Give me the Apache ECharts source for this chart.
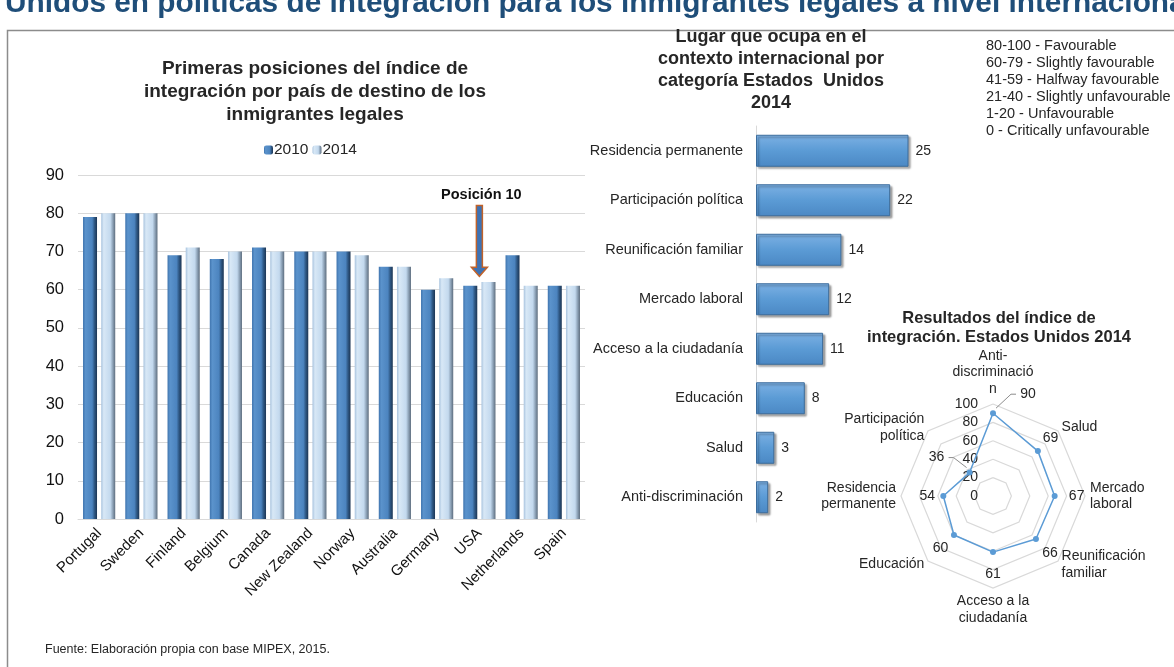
<!DOCTYPE html>
<html><head><meta charset="utf-8">
<script src="https://cdn.jsdelivr.net/npm/echarts@6/dist/echarts.min.js"></script>
<style>html,body{margin:0;padding:0;background:#fff}#c{width:1174px;height:667px}</style>
</head><body><div id="c"></div>
<script>
// ---------- data ----------
const countries = ['Portugal','Sweden','Finland','Belgium','Canada','New Zealand','Norway','Australia','Germany','USA','Netherlands','Spain'];
const values2010 = [79,80,69,68,71,70,70,66,60,61,69,61];
const values2014 = [80,80,71,70,70,70,69,66,63,62,61,61];
const yTicks = [0,10,20,30,40,50,60,70,80,90];

const rankCategories = ['Residencia permanente','Participación política','Reunificación familiar','Mercado laboral','Acceso a la ciudadanía','Educación','Salud','Anti-discriminación'];
const rankValues = [25,22,14,12,11,8,3,2];

// clockwise from the top, as in the reference
const radarNames = ['Anti-\ndiscriminació\nn','Salud','Mercado\nlaboral','Reunificación\nfamiliar','Acceso a la\nciudadanía','Educación','Residencia\npermanente','Participación\npolítica'];
const radarValues = [90,69,67,66,61,60,54,36];
const radarTicks = [0,20,40,60,80,100];

const scaleLegend = ['80-100 - Favourable','60-79 - Slightly favourable','41-59 - Halfway favourable','21-40 - Slightly unfavourable','1-20 - Unfavourable','0 - Critically unfavourable'];

// ---------- styling ----------
const FONT = '"Liberation Sans", Arial, sans-serif';
const TXT = '#262626';
const GRID = '#d9d9d9';
const c2010 = new echarts.graphic.LinearGradient(0,0,1,0,[
  {offset:0,color:'#3f74ae'},{offset:0.18,color:'#5b93cc'},{offset:0.65,color:'#4c84bf'},{offset:0.82,color:'#2e5783'},{offset:1,color:'#1c3553'}]);
const c2014 = new echarts.graphic.LinearGradient(0,0,1,0,[
  {offset:0,color:'#a8c3de'},{offset:0.18,color:'#d8e8f6'},{offset:0.65,color:'#c3d9ee'},{offset:0.82,color:'#8fa4b9'},{offset:1,color:'#5d6d7e'}]);
const cRank = new echarts.graphic.LinearGradient(0,0,0,1,[
  {offset:0,color:'#7db1e4'},{offset:0.5,color:'#5b9bd5'},{offset:1,color:'#4b88c4'}]);

// radar: ECharts lays indicators counter-clockwise, so reorder
const ccwOrder = [0,7,6,5,4,3,2,1];
const radarIndicators = ccwOrder.map((k,i) => {
  const o = {name: radarNames[k], max: radarTicks[radarTicks.length-1], min: radarTicks[0]};
  if (i === 0) o.axisLabel = {show: true};
  return o;
});
const radarData = ccwOrder.map(k => radarValues[k]);

const chart = echarts.init(document.getElementById('c'), null, {renderer:'canvas'});

chart.setOption({
  animation: false,
  textStyle: {fontFamily: FONT},
  title: [
    {text: 'Primeras posiciones del índice de\nintegración por país de destino de los\ninmigrantes legales',
     left: 310, top: 52, textAlign: 'center',
     textStyle: {fontSize: 19, fontWeight: 'bold', color: TXT, lineHeight: 23, fontFamily: FONT}},
    {text: 'Lugar que ocupa en el\ncontexto internacional por\ncategoría Estados  Unidos\n2014',
     left: 766, top: 21, textAlign: 'center',
     textStyle: {fontSize: 18, fontWeight: 'bold', color: TXT, lineHeight: 22, fontFamily: FONT}},
    {text: 'Resultados del índice de\nintegración. Estados Unidos 2014',
     left: 994, top: 304, textAlign: 'center',
     textStyle: {fontSize: 16.5, fontWeight: 'bold', color: TXT, lineHeight: 19, fontFamily: FONT}}
  ],
  legend: {
    data: ['2010','2014'], left: 259, top: 137,
    itemWidth: 9, itemHeight: 9, itemGap: 4,
    textStyle: {fontSize: 15.5, color: TXT, fontFamily: FONT, padding: [0,0,0,-4]}
  },
  grid: [
    {left: 78, right: 589, top: 175, bottom: 148},
    {left: 756, top: 126, width: 183, height: 396}
  ],
  xAxis: [
    {type: 'category', gridIndex: 0, data: countries,
     axisLine: {lineStyle: {color: GRID}}, axisTick: {show: false},
     axisLabel: {rotate: 45, interval: 0, fontSize: 15, color: '#111', margin: 12, fontFamily: FONT}},
    {type: 'value', gridIndex: 1, min: 0, max: 30, show: false}
  ],
  yAxis: [
    {type: 'value', gridIndex: 0, min: yTicks[0], max: yTicks[yTicks.length-1], interval: 10,
     axisLine: {show: false}, axisTick: {show: false},
     splitLine: {lineStyle: {color: GRID}},
     axisLabel: {fontSize: 16.5, color: '#111', margin: 14, fontFamily: FONT}},
    {type: 'category', gridIndex: 1, data: rankCategories, inverse: true,
     axisLine: {lineStyle: {color: GRID}}, axisTick: {show: false},
     axisLabel: {fontSize: 14.5, color: TXT, margin: 13, fontFamily: FONT}}
  ],
  radar: {
    center: [993, 496], radius: 92, startAngle: 90, shape: 'polygon', splitNumber: 5,
    indicator: radarIndicators,
    nameGap: 5,
    axisName: {color: TXT, fontSize: 14, lineHeight: 16.5, fontFamily: FONT},
    axisLine: {show: false},
    axisTick: {show: false},
    splitLine: {lineStyle: {color: GRID, width: 1.2}},
    splitArea: {show: false},
    axisLabel: {show: false, color: TXT, fontSize: 14, margin: 15, fontFamily: FONT}
  },
  series: [
    {name: '2010', type: 'bar', xAxisIndex: 0, yAxisIndex: 0, data: values2010,
     barWidth: 14, barGap: '30%', itemStyle: {color: c2010}},
    {name: '2014', type: 'bar', xAxisIndex: 0, yAxisIndex: 0, data: values2014,
     barWidth: 14, itemStyle: {color: c2014}},
    {name: 'rank', type: 'bar', xAxisIndex: 1, yAxisIndex: 1, data: rankValues,
     barWidth: 32,
     itemStyle: {color: cRank, borderColor: '#3d6d9c', borderWidth: 1,
       shadowColor: 'rgba(0,0,0,0.35)', shadowOffsetX: 2, shadowOffsetY: 2, shadowBlur: 2},
     label: {show: true, position: 'right', distance: 7, fontSize: 14, color: TXT, fontFamily: FONT}},
    {name: 'radar', type: 'radar', data: [{value: radarData}],
     symbol: 'circle', symbolSize: 6,
     lineStyle: {color: '#5b9bd5', width: 1.5},
     itemStyle: {color: '#5b9bd5'}}
  ]
});

// ---------- annotations positioned through the library's coordinate systems ----------
const g = [];
g.push({type: 'rect', shape: {x: 7.5, y: 30.5, width: 1300, height: 800},
  style: {fill: 'none', stroke: '#8c8c8c', lineWidth: 1.5}, z: 0});
g.push({type: 'text', style: {text: 'Unidos en políticas de integración para los inmigrantes legales a nivel internacional',
  x: 5, y: 4, verticalAlign: 'middle', font: 'bold 29.8px ' + FONT, fill: '#1f4e79'}});
g.push({type: 'text', style: {text: 'Fuente: Elaboración propia con base MIPEX, 2015.',
  x: 45, y: 650, verticalAlign: 'middle', font: '12.5px ' + FONT, fill: TXT}});
g.push({type: 'text', style: {text: scaleLegend.join('\n'), x: 986, y: 37.5,
  font: '14.5px ' + FONT, lineHeight: 17, fill: TXT}});

// arrow over USA
const arrowTop = chart.convertToPixel({gridIndex: 0}, ['USA', 82]);
const arrowTip = chart.convertToPixel({gridIndex: 0}, ['USA', 63.5]);
const ax = arrowTop[0], sw = 3, hw = 8, hl = 9;
g.push({type: 'polygon', shape: {points: [
  [ax - sw, arrowTop[1]], [ax + sw, arrowTop[1]], [ax + sw, arrowTip[1] - hl], [ax + hw, arrowTip[1] - hl],
  [ax, arrowTip[1]], [ax - hw, arrowTip[1] - hl], [ax - sw, arrowTip[1] - hl]]},
  style: {fill: '#3d72b4', stroke: '#c0622a', lineWidth: 1.5}, z: 10});
g.push({type: 'text', style: {text: 'Posición 10', x: ax + 2, y: arrowTop[1] - 11,
  align: 'center', verticalAlign: 'middle', font: 'bold 14.5px ' + FONT, fill: '#111'}, z: 10});

// radar value labels
const radarLabelDist = [0,18,22,20,22,19,16,0];
const radarLabelShift = {0: [35,-19], 7: [-33,-15]};
try {
  const cs = chart.getModel().getComponent('radar', 0).coordinateSystem;
  const cx = cs.cx, cy = cs.cy;
  radarValues.forEach((v, k) => {
    const ind = ccwOrder.indexOf(k);
    const p = cs.dataToPoint(v, ind);
    let lx, ly;
    if (radarLabelShift[k]) {
      lx = p[0] + radarLabelShift[k][0]; ly = p[1] + radarLabelShift[k][1];
      const dir = Math.sign(radarLabelShift[k][0]);
      g.push({type: 'polyline', shape: {points: [[p[0] + dir*3, p[1] - 5], [lx - dir*17, ly], [lx - dir*12, ly]]},
        style: {stroke: '#8c8c8c', lineWidth: 1, fill: 'none'}, z: 10});
    } else {
      const dx = p[0] - cx, dy = p[1] - cy, len = Math.hypot(dx, dy) || 1;
      lx = p[0] + dx / len * radarLabelDist[k]; ly = p[1] + dy / len * radarLabelDist[k];
    }
    g.push({type: 'text', style: {text: String(v), x: lx, y: ly, align: 'center', verticalAlign: 'middle',
      font: '14px ' + FONT, fill: TXT}, z: 10});
  });
} catch (e) { console.error(e); }

chart.setOption({graphic: g});
</script>
</body></html>
